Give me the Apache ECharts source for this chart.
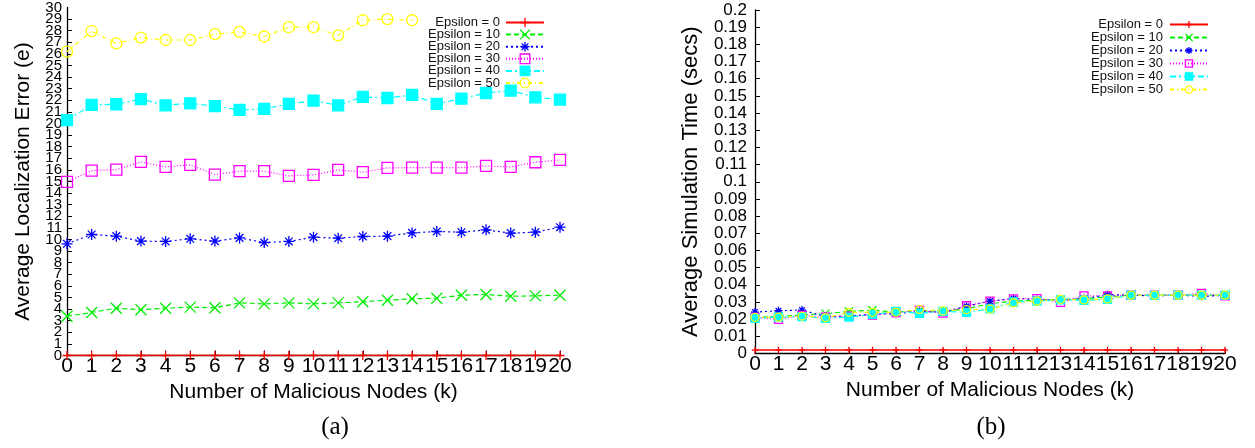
<!DOCTYPE html>
<html>
<head>
<meta charset="utf-8">
<script src="https://cdn.jsdelivr.net/npm/echarts@6/dist/echarts.min.js"></script>
<style>
  html, body { margin: 0; padding: 0; background: #fff; }
  #chart { width: 1255px; height: 448px; }
</style>
</head>
<body>
<div id="chart"></div>
<script>
// Number of malicious nodes (k)
const categories = ['0','1','2','3','4','5','6','7','8','9','10','11','12','13','14','15','16','17','18','19','20'];
const seriesNames = ['Epsilon = 0', 'Epsilon = 10', 'Epsilon = 20', 'Epsilon = 30', 'Epsilon = 40', 'Epsilon = 50'];

// (a) Average localization error (e)
const errEps0  = [0, 0, 0, 0, 0, 0, 0, 0, 0, 0, 0, 0, 0, 0, 0, 0, 0, 0, 0, 0, 0];
const errEps10 = [3.39, 3.71, 4.08, 3.94, 4.08, 4.17, 4.11, 4.54, 4.45, 4.54, 4.45, 4.54, 4.63, 4.77, 4.89, 4.94, 5.20, 5.26, 5.11, 5.14, 5.20];
const errEps20 = [9.63, 10.43, 10.29, 9.86, 9.83, 10.06, 9.86, 10.14, 9.74, 9.83, 10.20, 10.11, 10.26, 10.29, 10.57, 10.69, 10.63, 10.83, 10.55, 10.63, 11.06];
const errEps30 = [14.97, 15.94, 16.03, 16.69, 16.26, 16.43, 15.60, 15.89, 15.89, 15.49, 15.57, 16.00, 15.80, 16.17, 16.20, 16.20, 16.20, 16.34, 16.26, 16.66, 16.86];
const errEps40 = [20.29, 21.60, 21.66, 22.10, 21.57, 21.74, 21.50, 21.17, 21.26, 21.70, 21.97, 21.57, 22.29, 22.20, 22.46, 21.69, 22.14, 22.63, 22.83, 22.26, 22.06];
const errEps50 = [26.20, 27.97, 26.90, 27.40, 27.20, 27.20, 27.70, 27.90, 27.50, 28.30, 28.30, 27.60, 28.90, 29.00, 28.90, null, null, null, null, null, null];
const errAxisEnds = [0, 30];

// (b) Average simulation time (secs)
const timeEps0  = [0.002, 0.002, 0.002, 0.002, 0.002, 0.002, 0.002, 0.002, 0.002, 0.002, 0.002, 0.002, 0.002, 0.002, 0.002, 0.002, 0.002, 0.002, 0.002, 0.002, 0.002];
const timeEps10 = [0.0210, 0.0215, 0.0224, 0.0232, 0.0245, 0.0252, 0.0240, 0.0250, 0.0245, 0.0260, 0.0290, 0.0305, 0.0310, 0.0315, 0.0318, 0.0330, 0.0340, 0.0340, 0.0340, 0.0340, 0.0340];
const timeEps20 = [0.0241, 0.0249, 0.0253, 0.0215, 0.0218, 0.0228, 0.0232, 0.0245, 0.0240, 0.0275, 0.0305, 0.0320, 0.0315, 0.0310, 0.0320, 0.0342, 0.0340, 0.0335, 0.0340, 0.0333, 0.0338];
const timeEps30 = [0.0210, 0.0199, 0.0222, 0.0212, 0.0218, 0.0224, 0.0238, 0.0252, 0.0235, 0.0278, 0.0305, 0.0318, 0.0320, 0.0298, 0.0336, 0.0335, 0.0340, 0.0340, 0.0340, 0.0350, 0.0335];
const timeEps40 = [0.0205, 0.0212, 0.0215, 0.0205, 0.0212, 0.0228, 0.0245, 0.0234, 0.0245, 0.0240, 0.0260, 0.0300, 0.0305, 0.0312, 0.0310, 0.0315, 0.0340, 0.0338, 0.0340, 0.0340, 0.0340];
const timeEps50 = [0.0210, 0.0212, 0.0218, 0.0208, 0.0240, 0.0240, 0.0240, 0.0257, 0.0248, 0.0255, 0.0258, 0.0295, 0.0305, 0.0315, 0.0312, 0.0318, 0.0340, 0.0340, 0.0340, 0.0340, 0.0340];

const FONT = '"Liberation Sans", Arial, sans-serif';

// gnuplot-like point and line styles, one per epsilon
const styles = [
  { color: '#ff0000', symbol: 'path://M0,5L10,5M5,0L5,10', fill: '#ff0000', dash: 'solid', width: 1.4 },
  { color: '#00ee00', symbol: 'path://M0,0L10,10M10,0L0,10', fill: '#00ee00', dash: [5, 3], width: 1.2 },
  { color: '#0000ff', symbol: 'path://M0,5L10,5M5,0L5,10M1.5,1.5L8.5,8.5M8.5,1.5L1.5,8.5', fill: '#0000ff', dash: [2, 3], width: 1.2 },
  { color: '#ff00ff', symbol: 'rect', fill: 'transparent', dash: [1, 2], width: 1.2 },
  { color: '#00ffff', symbol: 'rect', fill: '#00ffff', dash: [6, 3, 2, 3], width: 1.2 },
  { color: '#ffff00', symbol: 'circle', fill: 'transparent', dash: [4, 3, 1, 3], width: 1.2 }
];

function makeSeries(dataArrays, axisIndex, symbolSize) {
  return dataArrays.map(function (values, i) {
    const s = styles[i];
    return {
      name: seriesNames[i],
      type: 'line',
      xAxisIndex: axisIndex,
      yAxisIndex: axisIndex,
      data: values,
      symbol: s.symbol,
      symbolSize: (i === 0 ? symbolSize * 0.8 : symbolSize),
      showAllSymbol: true,
      connectNulls: false,
      animation: false,
      lineStyle: { color: s.color, width: s.width, type: s.dash },
      itemStyle: { color: s.fill, borderColor: s.color, borderWidth: 1.3 },
      emphasis: { disabled: true }
    };
  });
}

function xAxisCfg(gridIndex) {
  return {
    type: 'category',
    gridIndex: gridIndex,
    data: categories,
    boundaryGap: false,
    name: 'Number of Malicious Nodes (k)',
    nameLocation: 'middle',
    nameGap: 15,
    nameTextStyle: { fontFamily: FONT, fontSize: 21, color: '#000' },
    axisLine: { lineStyle: { color: '#000', width: 1.3 } },
    axisTick: { inside: true, length: 5, alignWithLabel: true, interval: 0, lineStyle: { color: '#000' } },
    axisLabel: { interval: 0, hideOverlap: false, margin: 0, fontFamily: FONT, fontSize: 21, color: '#000' },
    splitLine: { show: false }
  };
}

function legendCfg(right, top, itemHeight, gap, padRight) {
  return {
    orient: 'vertical',
    right: right,
    top: top,
    align: 'right',
    padding: 0,
    itemWidth: 38,
    itemHeight: itemHeight,
    itemGap: gap,
    data: seriesNames,
    selectedMode: false,
    itemStyle: { borderWidth: 1.3 },
    textStyle: { fontFamily: FONT, fontSize: 13, color: '#111', lineHeight: itemHeight, padding: [0, padRight, 0, 0] }
  };
}

const errLabelStyle = { margin: 5, hideOverlap: false, fontFamily: FONT, fontSize: 15, color: '#000' };

const chart = echarts.init(document.getElementById('chart'), null, { renderer: 'canvas' });

chart.setOption({
  backgroundColor: '#fff',
  animation: false,
  textStyle: { fontFamily: FONT },
  grid: [
    { left: 67, top: 7.5, width: 493, height: 348 },
    { left: 755, top: 10, width: 470, height: 343.5 }
  ],
  legend: [
    legendCfg(710, 16, 12, -0.9, 1),
    legendCfg(46, 18, 9, 0, 2)
  ],
  xAxis: [xAxisCfg(0), xAxisCfg(1)],
  yAxis: [
    {
      type: 'value', gridIndex: 0, min: 0, max: 30, interval: 1,
      name: 'Average Localization Error (e)',
      nameLocation: 'middle', nameGap: 33,
      nameTextStyle: { fontFamily: FONT, fontSize: 21, color: '#000' },
      axisLine: { show: true, lineStyle: { color: '#000', width: 1.3 } },
      axisTick: { show: true, inside: true, length: 5, lineStyle: { color: '#000' } },
      axisLabel: Object.assign({ showMinLabel: false, showMaxLabel: false }, errLabelStyle),
      splitLine: { show: false }
    },
    {
      type: 'value', gridIndex: 1, min: 0, max: 0.2, interval: 0.01,
      name: 'Average Simulation Time (secs)',
      nameLocation: 'middle', nameGap: 53,
      nameTextStyle: { fontFamily: FONT, fontSize: 22, color: '#000' },
      axisLine: { show: true, lineStyle: { color: '#000', width: 1.3 } },
      axisTick: { show: true, inside: true, length: 5, lineStyle: { color: '#000' } },
      axisLabel: { margin: 8, showMinLabel: true, showMaxLabel: true, fontFamily: FONT, fontSize: 17, color: '#000' },
      splitLine: { show: false }
    },
    {
      // companion scale on the same grid carrying the end labels (0 and 30)
      type: 'value', gridIndex: 0, min: 0, max: 30, interval: 1, position: 'left',
      axisLine: { show: false }, axisTick: { show: false }, splitLine: { show: false },
      axisLabel: Object.assign({
        showMinLabel: true, showMaxLabel: true,
        formatter: function (v) { return errAxisEnds.indexOf(v) >= 0 ? String(v) : ''; }
      }, errLabelStyle)
    }
  ],
  graphic: [
    { type: 'text', x: 335, y: 427, style: { text: '(a)', align: 'center', verticalAlign: 'middle', font: '25px "Liberation Serif", "Times New Roman", serif', fill: '#000' } },
    { type: 'text', x: 991, y: 427, style: { text: '(b)', align: 'center', verticalAlign: 'middle', font: '25px "Liberation Serif", "Times New Roman", serif', fill: '#000' } }
  ],
  series: []
    .concat(makeSeries([errEps0, errEps10, errEps20, errEps30, errEps40, errEps50], 0, 11))
    .concat(makeSeries([timeEps0, timeEps10, timeEps20, timeEps30, timeEps40, timeEps50], 1, 8))
});
</script>
</body>
</html>
